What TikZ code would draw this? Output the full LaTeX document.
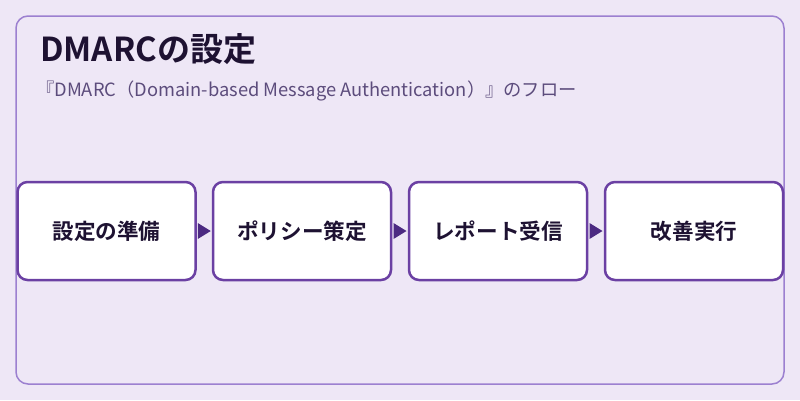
\documentclass[tikz,border=0pt]{standalone}
\usepackage{fontspec}
\setmainfont{Noto Sans CJK JP}[BoldFont={Noto Sans CJK JP Bold}]
\definecolor{bgc}{HTML}{EEE7F6}
\definecolor{framec}{HTML}{9C80D0}
\definecolor{boxc}{HTML}{6B40A3}
\definecolor{arrc}{HTML}{4C2A82}
\definecolor{titlec}{HTML}{1E1232}
\definecolor{subc}{HTML}{5C4C7C}
\begin{document}
\begin{tikzpicture}[x=1pt,y=-1pt,
  stepbox/.style={draw=boxc,line width=2.5pt,fill=white,rounded corners=10pt,
    minimum width=178pt,minimum height=98pt,inner sep=0pt,
    font=\fontsize{21.6}{24}\selectfont\bfseries,text=titlec},
  flowarrow/.style={fill=arrc,draw=none}]
\fill[bgc] (0,0) rectangle (800,400);
\useasboundingbox (0,0) rectangle (800,400);
\node[draw=framec,line width=1.5pt,rounded corners=12pt,minimum width=768pt,minimum height=368pt,inner sep=0pt] (frame) at (400,200) {};
\node[anchor=base west,inner sep=0pt,text=titlec,font=\fontsize{33}{36}\selectfont\bfseries] (title) at (40,61) {DMARCの設定};
\node[anchor=base west,inner sep=0pt,text=subc,font=\fontsize{18.3}{21}\selectfont] (sub) at (36,96) {『DMARC（Domain-based Message Authentication）』のフロー};
\node[stepbox] (s1) at (106.5,231) {設定の準備};
\node[stepbox] (s2) at (302,231) {ポリシー策定};
\node[stepbox] (s3) at (498,231) {レポート受信};
\node[stepbox] (s4) at (694,231) {改善実行};
\foreach \a/\b in {s1/s2,s2/s3,s3/s4}{
  \path (\a.east) -- coordinate (m\a) (\b.west);
  \fill[flowarrow] ([xshift=-6.5pt,yshift=-8pt]m\a) -- ([xshift=6.5pt]m\a) -- ([xshift=-6.5pt,yshift=8pt]m\a) -- cycle;
}
\end{tikzpicture}
\end{document}
